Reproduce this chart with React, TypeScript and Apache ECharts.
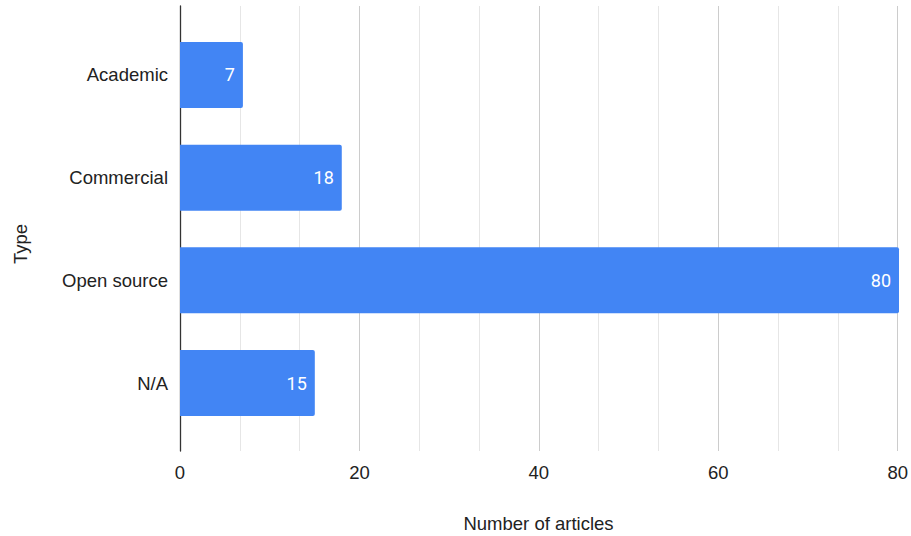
import React, { useEffect, useRef } from "react";
import * as echarts from "echarts";

const categories = ["Academic", "Commercial", "Open source", "N/A"];
const articleCounts = [7, 18, 80, 15];
const xTicks = [0, 20, 40, 60, 80];

export default function App() {
  const ref = useRef<HTMLDivElement>(null);
  useEffect(() => {
    if (!ref.current) return;
    const chart = echarts.init(ref.current, undefined, { renderer: "svg" });
    const font = "Arial, 'Liberation Sans', sans-serif";
    chart.setOption({
      animation: false,
      backgroundColor: "#ffffff",
      grid: [
        { left: 180, right: 12, top: 6, bottom: 85 },
        { left: 180, right: 12, top: 23.65, bottom: 101.65 },
      ],
      xAxis: [
        {
          gridIndex: 0,
          type: "value",
          min: xTicks[0],
          max: xTicks[xTicks.length - 1],
          interval: 20,
          axisLine: { show: false },
          axisTick: { show: false },
          minorTick: { show: false, splitNumber: 3 },
          splitLine: { show: true, lineStyle: { color: "#cccccc", width: 1 } },
          minorSplitLine: { show: true, lineStyle: { color: "#e6e6e6", width: 1 } },
          axisLabel: { color: "#222222", fontSize: 18.5, fontFamily: font, margin: 12 },
        },
        {
          gridIndex: 1,
          type: "value",
          min: 0,
          max: 80,
          show: false,
        },
      ],
      yAxis: [
        {
          gridIndex: 0,
          type: "value",
          min: 0,
          max: 1,
          axisLine: { show: true, onZero: false, lineStyle: { color: "#333333", width: 1.3 } },
          axisTick: { show: false },
          axisLabel: { show: false },
          splitLine: { show: false },
        },
        {
          gridIndex: 1,
          type: "category",
          inverse: true,
          data: categories,
          axisLine: { show: false },
          axisTick: { show: false },
          splitLine: { show: false },
          axisLabel: { color: "#222222", fontSize: 18.5, fontFamily: font, margin: 12 },
        },
      ],
      series: [
        {
          type: "bar",
          xAxisIndex: 1,
          yAxisIndex: 1,
          data: articleCounts,
          barWidth: 66,
          itemStyle: { color: "#4285f4", borderRadius: [0, 2, 2, 0] },
          label: {
            show: true,
            position: "insideRight",
            distance: 8,
            color: "#ffffff",
            fontSize: 18,
            fontFamily: "Roboto, sans-serif",
          },
        },
      ],
      graphic: [
        {
          type: "text",
          x: 538.5,
          y: 523,
          style: {
            text: "Number of articles",
            fill: "#222222",
            font: `18.5px ${font}`,
            textAlign: "center",
            textVerticalAlign: "middle",
          },
        },
        {
          type: "text",
          x: 20,
          y: 244,
          rotation: Math.PI / 2,
          style: {
            text: "Type",
            fill: "#222222",
            font: `18.5px ${font}`,
            textAlign: "center",
            textVerticalAlign: "middle",
          },
        },
      ],
    });
    return () => chart.dispose();
  }, []);
  return <div ref={ref} style={{ width: 911, height: 536, position: "absolute", left: 0, top: 0 }} />;
}
